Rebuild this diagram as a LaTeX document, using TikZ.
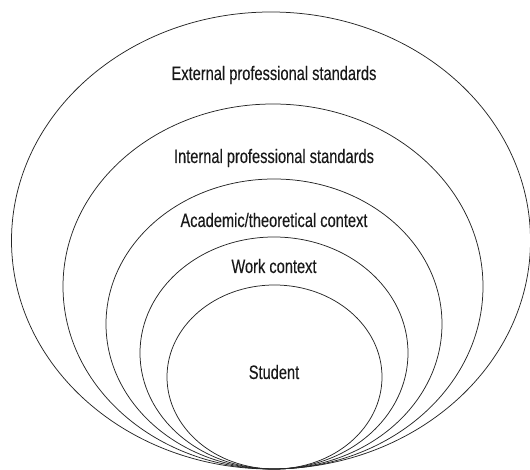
\documentclass[tikz,border=0pt]{standalone}
\usepackage{fontspec}
\setmainfont[FakeStretch=0.75,FakeBold=0.25]{Liberation Sans}
\begin{document}
\begin{tikzpicture}[x=1pt,y=1pt,
  ring/.style={draw=black!85, line width=0.75pt},
  lbl/.style={anchor=base, inner sep=0pt, text=black!90, font=\fontsize{19.5}{22}\selectfont}]
\useasboundingbox (0,0) rectangle (530,470);
% image coords: y_tikz = 470 - y_img
\draw[ring] (271,229.5) ellipse [x radius=259.5, y radius=228.5];
\draw[ring] (273,183.5) ellipse [x radius=210, y radius=182.5];
\draw[ring] (274,146) ellipse [x radius=168, y radius=145];
\draw[ring] (274,117) ellipse [x radius=134, y radius=116];
\draw[ring] (274.5,93) ellipse [x radius=107.5, y radius=92];
\node[lbl] (ext) at (274,390) {External professional standards};
\node[lbl] (int) at (274,307) {Internal professional standards};
\node[lbl] (aca) at (274,243) {Academic/theoretical context};
\node[lbl] (work) at (274,197) {Work context};
\node[lbl] (stu) at (274,91) {Student};
\end{tikzpicture}
\end{document}
